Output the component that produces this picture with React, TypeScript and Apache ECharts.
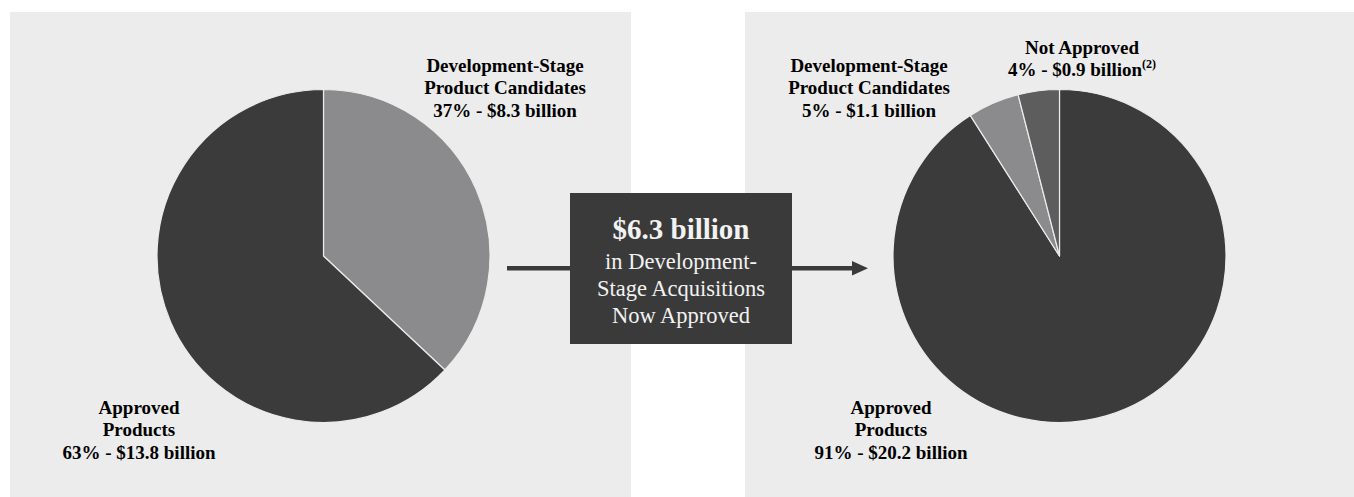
import React, { useEffect, useRef } from "react";
import * as echarts from "echarts";

// ---- Data ----
const leftNames = ["Development-Stage\nProduct Candidates", "Approved\nProducts"];
const leftPercent = [37, 63];
const leftBillions = [8.3, 13.8];
const leftColors = ["#8b8b8d", "#3b3b3b"];

const rightNames = ["Approved\nProducts", "Development-Stage\nProduct Candidates", "Not Approved"];
const rightPercent = [91, 5, 4];
const rightBillions = [20.2, 1.1, 0.9];
const rightColors = ["#3b3b3b", "#8b8b8d", "#5d5d5d"];
const rightFootnotes = ["", "", "(2)"];

const boxTitle = "$6.3 billion";
const boxLines = ["in Development-", "Stage Acquisitions", "Now Approved"];

const SERIF = "Liberation Serif";

function labelText(name: string, pct: number, bn: number, note: string) {
  const lines = name.split("\n").map((l) => `{b|${l}}`);
  lines.push(`{b|${pct}% - $${bn.toFixed(1)} billion}` + (note ? `{sup|${note}}` : ""));
  return lines.join("\n");
}

export default function App() {
  const ref = useRef<HTMLDivElement>(null);
  useEffect(() => {
    if (!ref.current) return;
    const chart = echarts.init(ref.current, null, { renderer: "svg" });

    const rich = {
      b: { fontFamily: SERIF, fontSize: 19, fontWeight: "bold", color: "#2b2b2b", lineHeight: 22.5 },
      sup: { fontFamily: SERIF, fontSize: 12, fontWeight: "bold", color: "#2b2b2b", verticalAlign: "top", lineHeight: 22.5 },
    };

    const leftLabelPos = [
      [505, 65],
      [139, 407],
    ];
    const rightLabelPos = [
      [891, 407],
      [869, 65],
      [1082, 47],
    ];

    const labelGraphics: any[] = [];
    leftNames.forEach((n, i) => {
      labelGraphics.push({
        type: "text",
        x: leftLabelPos[i][0],
        y: leftLabelPos[i][1] - 11.25,
        style: {
          text: labelText(n, leftPercent[i], leftBillions[i], ""),
          align: "center",
          verticalAlign: "top",
          fontFamily: SERIF,
          rich,
        },
      });
    });
    rightNames.forEach((n, i) => {
      labelGraphics.push({
        type: "text",
        x: rightLabelPos[i][0],
        y: rightLabelPos[i][1] - 11.25,
        style: {
          text: labelText(n, rightPercent[i], rightBillions[i], rightFootnotes[i]),
          align: "center",
          verticalAlign: "top",
          fontFamily: SERIF,
          rich,
        },
      });
    });

    const option: any = {
      animation: false,
      backgroundColor: "#ffffff",
      textStyle: { fontFamily: SERIF },
      graphic: [
        { type: "rect", z: -10, shape: { x: 10, y: 12, width: 621, height: 485 }, style: { fill: "#ececec" } },
        { type: "rect", z: -10, shape: { x: 745, y: 12, width: 609, height: 485 }, style: { fill: "#ececec" } },
        { type: "rect", shape: { x: 507, y: 266, width: 64, height: 4.5 }, style: { fill: "#3a3a3a" } },
        { type: "rect", shape: { x: 791, y: 266, width: 63, height: 4.5 }, style: { fill: "#3a3a3a" } },
        { type: "polygon", shape: { points: [[852, 261], [868, 268.2], [852, 275.5]] }, style: { fill: "#3a3a3a" } },
        { type: "rect", shape: { x: 570, y: 193, width: 222, height: 151 }, style: { fill: "#3a3a3a" } },
        {
          type: "text",
          x: 681,
          y: 229,
          style: { text: boxTitle, align: "center", verticalAlign: "middle", fontFamily: SERIF, fontSize: 29, fontWeight: "bold", fill: "#f2f2f2" },
        },
        ...boxLines.map((t, i) => ({
          type: "text",
          x: 681,
          y: 261 + i * 27,
          style: { text: t, align: "center", verticalAlign: "middle", fontFamily: SERIF, fontSize: 22.5, fill: "#f2f2f2" },
        })),
        ...labelGraphics,
      ],
      series: [
        {
          type: "pie",
          center: [323.5, 256],
          radius: [0, 166.5],
          startAngle: 90,
          clockwise: true,
          label: { show: false },
          labelLine: { show: false },
          itemStyle: { borderColor: "#ececec", borderWidth: 1.2 },
          emphasis: { disabled: true },
          data: leftNames.map((n, i) => ({ name: n, value: leftPercent[i], itemStyle: { color: leftColors[i] } })),
        },
        {
          type: "pie",
          center: [1059.5, 256],
          radius: [0, 166.5],
          startAngle: 90,
          clockwise: true,
          label: { show: false },
          labelLine: { show: false },
          itemStyle: { borderColor: "#ececec", borderWidth: 1.2 },
          emphasis: { disabled: true },
          data: rightNames.map((n, i) => ({ name: n, value: rightPercent[i], itemStyle: { color: rightColors[i] } })),
        },
      ],
    };
    chart.setOption(option);
    return () => chart.dispose();
  }, []);

  return <div ref={ref} style={{ position: "fixed", left: 0, top: 0, width: 1354, height: 497 }} />;
}
